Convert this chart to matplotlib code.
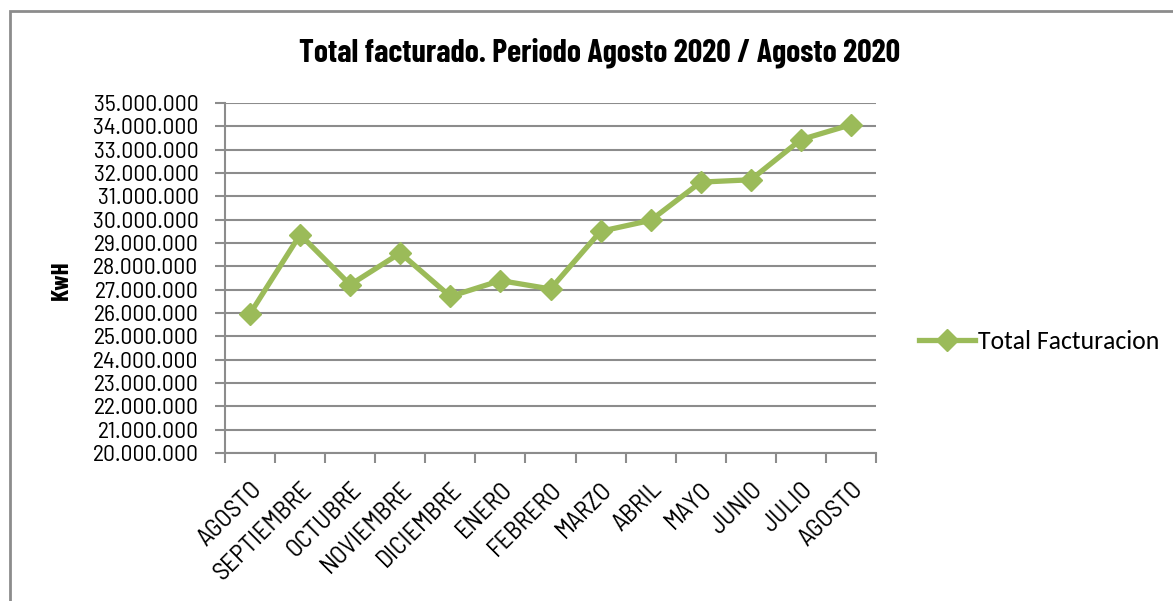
import matplotlib
matplotlib.use("Agg")
import matplotlib.pyplot as plt
from matplotlib.patches import Rectangle
from matplotlib.ticker import FuncFormatter, MultipleLocator

# Monthly billing, Aug 2019 .. Aug 2020 (kWh)
months = ['AGOSTO', 'SEPTIEMBRE', 'OCTUBRE', 'NOVIEMBRE', 'DICIEMBRE', 'ENERO',
          'FEBRERO', 'MARZO', 'ABRIL', 'MAYO', 'JUNIO', 'JULIO', 'AGOSTO']
total_kwh = [25970000, 29360000, 27210000, 28570000, 26710000, 27390000,
             27030000, 29500000, 29970000, 31610000, 31710000, 33430000, 34070000]

cond = ['Barlow Semi Condensed', 'DejaVu Sans']
bold_cond = ['Barlow Condensed', 'DejaVu Sans']
green = '#9BBB59'
grid_gray = '#8c8c8c'

fig = plt.figure(figsize=(11.73, 6.01), dpi=100)
ax = fig.add_axes([225 / 1173, 1 - 453 / 601, 651 / 1173, 350 / 601])

x = list(range(len(months)))
ax.plot(x, total_kwh, color=green, lw=3.8, marker='D', markersize=11,
        label='Total Facturacion', zorder=3)

ax.set_xlim(-0.5, len(months) - 0.5)
ax.set_ylim(20000000, 35000000)
ax.yaxis.set_major_locator(MultipleLocator(1000000))
ax.yaxis.set_major_formatter(FuncFormatter(lambda v, p: f'{int(v):,}'.replace(',', '.')))

ax.set_xticks([i - 0.5 for i in range(len(months) + 1)])
ax.set_xticklabels([])
ax.set_xticks(x, minor=True)
ax.set_xticklabels(months, minor=True, rotation=45, ha='right', rotation_mode='anchor',
                   fontsize=18.5, family=cond)
ax.tick_params(axis='x', which='minor', length=0, pad=18)
ax.tick_params(axis='x', which='major', length=7, color=grid_gray, width=1.5)
ax.tick_params(axis='y', length=7, color=grid_gray, width=1.5, labelsize=17, pad=12)
for lab in ax.get_yticklabels():
    lab.set_family(cond)

ax.grid(axis='y', color=grid_gray, lw=1.5)
ax.set_axisbelow(True)
for s in ['top', 'right']:
    ax.spines[s].set_visible(False)
for s in ['left', 'bottom']:
    ax.spines[s].set_color(grid_gray)
    ax.spines[s].set_linewidth(1.5)

fig.text(62 / 1173, 1 - 280 / 601, 'KwH', rotation=90, ha='center', va='center',
         fontsize=18, fontweight='bold', family=bold_cond)

fig.text(600 / 1173, 1 - 53 / 601, 'Total facturado. Periodo Agosto 2020 / Agosto 2020',
         ha='center', va='center', fontsize=23, fontweight='bold', family=bold_cond)

leg = ax.legend(loc='center left', bbox_to_anchor=(906 / 1173, 1 - 341 / 601),
                bbox_transform=fig.transFigure, frameon=False, fontsize=18.5,
                handlelength=2.2, handletextpad=0.1, borderpad=0)
leg.get_texts()[0].set_family(['Carlito', 'Open Sans', 'DejaVu Sans'])

# chart border (clipped on right and bottom like the screenshot)
fig.patches.append(Rectangle((10 / 1173, -0.1), 1.2, 1.1 - 11 / 601,
                             transform=fig.transFigure, fill=False,
                             edgecolor=grid_gray, lw=2))

fig.savefig('out.png', dpi=100)
